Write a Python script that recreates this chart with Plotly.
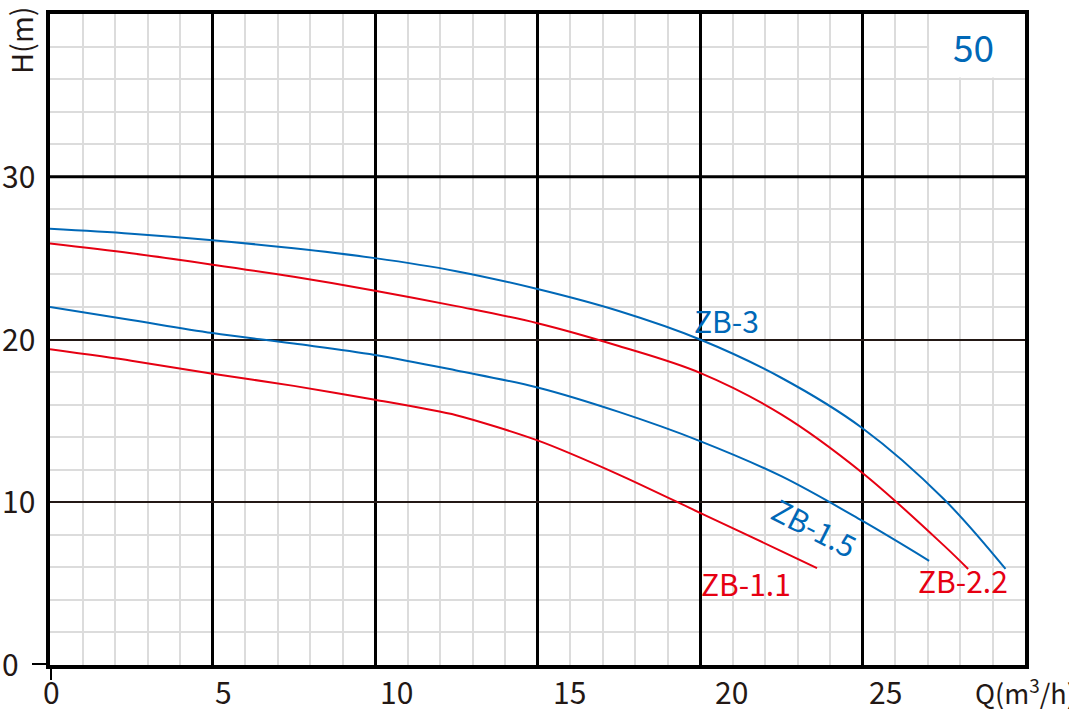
import plotly.graph_objects as go

# ---- data ----
q_zb3 = [0, 2.5, 5, 7.5, 10, 12.5, 15, 17.5, 20, 22.5, 25, 27.5, 29.4]
h_zb3 = [26.8, 26.5, 26.1, 25.6, 25.0, 24.2, 23.1, 21.75, 20.0, 17.65, 14.55, 10.2, 5.9]

q_zb22 = [0, 2.5, 5, 7.5, 10, 12.5, 15, 17.5, 20, 22.5, 25, 27.5, 28.25]
h_zb22 = [25.9, 25.3, 24.6, 23.85, 23.0, 22.05, 21.0, 19.6, 17.95, 15.4, 11.8, 7.35, 5.9]

q_zb15 = [0, 2.5, 5, 7.5, 10, 12.5, 15, 17.5, 20, 22.5, 25, 27.05]
h_zb15 = [22.0, 21.2, 20.4, 19.75, 19.05, 18.1, 17.05, 15.55, 13.76, 11.6, 8.85, 6.4]

q_zb11 = [0, 2.5, 5, 7.5, 10, 12.5, 15, 17.5, 20, 22.5, 23.6]
h_zb11 = [19.4, 18.7, 17.9, 17.15, 16.3, 15.35, 13.8, 11.7, 9.35, 7.0, 5.95]

x_tick_labels = ["0", "5", "10", "15", "20", "25"]
x_label_pos = [0.06, 5.35, 10.65, 15.97, 20.98, 25.72]
y_tick_labels = ["0", "10", "20", "30"]
y_tick_vals = [0, 10, 20, 30]

BLUE = "#0068b7"
RED = "#e60012"
TXT = "#231815"
FONT = "Noto Sans CJK SC"

fig = go.Figure()
series = [
    ("ZB-3", q_zb3, h_zb3, BLUE, 1.0),
    ("ZB-2.2", q_zb22, h_zb22, RED, 1.0),
    ("ZB-1.5", q_zb15, h_zb15, BLUE, 1.0),
    ("ZB-1.1", q_zb11, h_zb11, RED, 0.7),
]
for name, q, h, c, sm in series:
    fig.add_trace(go.Scatter(x=q, y=h, mode="lines", name=name,
                             line=dict(color=c, width=2, shape="spline", smoothing=sm),
                             showlegend=False, hoverinfo="skip"))

fig.update_layout(
    width=1069, height=709,
    margin=dict(l=50, r=44, t=10, b=44),
    plot_bgcolor="white", paper_bgcolor="white",
    font=dict(family=FONT, color=TXT),
    xaxis=dict(range=[0, 30], dtick=5, showgrid=True, gridcolor="#000000", gridwidth=3,
               minor=dict(dtick=1, showgrid=True, gridcolor="#dcdcdc", gridwidth=1.5),
               showline=True, linecolor="#000000", linewidth=4, mirror=True,
               showticklabels=False, ticks="", zeroline=False),
    yaxis=dict(range=[0, 40], dtick=10, showgrid=True, gridcolor="#231815", gridwidth=2,
               minor=dict(dtick=2, showgrid=True, gridcolor="#dcdcdc", gridwidth=1.5),
               showline=True, linecolor="#000000", linewidth=4, mirror=True,
               showticklabels=False, ticks="", zeroline=False),
)

# thicker 30 line and white box behind "50"
fig.add_shape(type="line", xref="x", yref="y", x0=0, x1=30, y0=30, y1=30,
              line=dict(color="#000000", width=3), layer="between")
fig.add_shape(type="rect", xref="x", yref="y", x0=27.05, x1=30, y0=36.1, y1=40,
              fillcolor="white", line=dict(width=0), layer="between")
# small axis overhangs
fig.add_shape(type="line", xref="x", yref="paper", x0=0, x1=0, y0=0, y1=-15/655,
              line=dict(color="#000000", width=4))
fig.add_shape(type="line", xref="paper", yref="y", x0=0, x1=-18/975, y0=0, y1=0,
              line=dict(color="#000000", width=4))

# tick labels
for lab, pos in zip(x_tick_labels, x_label_pos):
    fig.add_annotation(x=pos, y=0, xref="x", yref="y", yshift=-26, text=lab,
                       showarrow=False, font=dict(size=30, family=FONT, color=TXT),
                       xanchor="center", yanchor="middle")
for lab, v in zip(y_tick_labels, y_tick_vals):
    fig.add_annotation(x=-50/975, y=v, xref="paper", yref="y", text=lab, yshift=2,
                       showarrow=False, font=dict(size=30, family=FONT, color=TXT),
                       xanchor="left", yanchor="middle")

# axis titles
fig.add_annotation(x=-30/975, y=1, xref="paper", yref="paper", text="H(m)",
                   textangle=-90, showarrow=False, font=dict(size=29, family=FONT, color=TXT),
                   xanchor="center", yanchor="top", yshift=10)
fig.add_annotation(x=1, y=0, xref="paper", yref="paper", text="Q(m<sup>3</sup>/h)",
                   showarrow=False, font=dict(size=27, family=FONT, color=TXT),
                   xanchor="left", yanchor="middle", xshift=-52, yshift=-26)

# curve labels
fig.add_annotation(x=20.8, y=21.2, text="ZB-3", showarrow=False,
                   font=dict(size=30, family=FONT, color=BLUE))
fig.add_annotation(x=28.1, y=5.2, text="ZB-2.2", showarrow=False,
                   font=dict(size=30, family=FONT, color=RED))
fig.add_annotation(x=23.55, y=8.5, text="ZB-1.5", showarrow=False, textangle=27,
                   font=dict(size=30, family=FONT, color=BLUE))
fig.add_annotation(x=21.4, y=5.06, text="ZB-1.1", showarrow=False,
                   font=dict(size=30, family=FONT, color=RED))
fig.add_annotation(x=28.4, y=38.05, text="50", showarrow=False,
                   font=dict(size=37, family=FONT, color=BLUE))

fig.write_html("out.html", config={"displayModeBar": False},
               post_script="document.body.style.margin='0';document.body.style.overflow='hidden';")
